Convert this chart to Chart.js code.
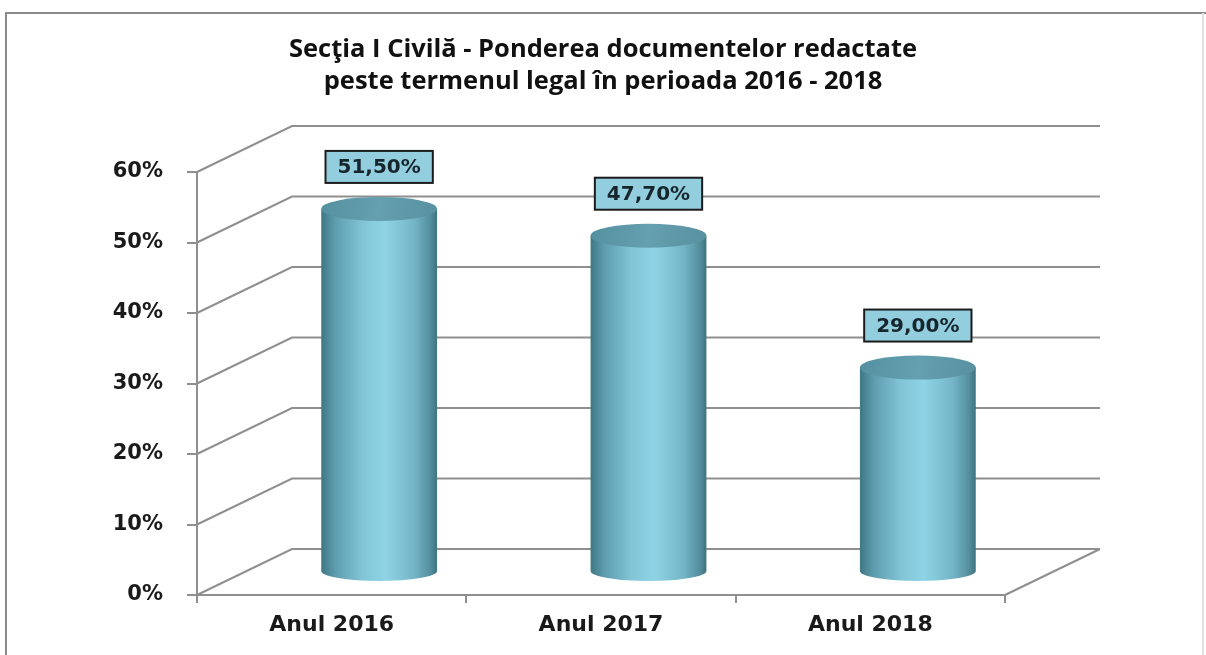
<!DOCTYPE html>
<html>
<head>
<meta charset="utf-8">
<script src="https://cdn.jsdelivr.net/npm/chart.js@4"></script>
<style>
  html, body { margin: 0; padding: 0; background: #fff; }
  #wrap { width: 1206px; height: 655px; }
</style>
</head>
<body>
<div id="wrap"><canvas id="chart"></canvas></div>
<script>
const categories = ['Anul 2016', 'Anul 2017', 'Anul 2018'];
const values = [51.5, 47.7, 29.0];
const tickValues = [0, 10, 20, 30, 40, 50, 60];
const titleLines = ['Secţia I Civilă - Ponderea documentelor redactate', 'peste termenul legal în perioada 2016 - 2018'];

// 3D depth of the back wall
const depthX = 95;
const depthY = -46;
const gridColor = '#8f8f8f';

const fmtPct = v => v.toFixed(2).replace('.', ',') + '%';

const frame = {
  id: 'frame',
  beforeDraw(chart) {
    const ctx = chart.ctx;
    ctx.save();
    ctx.strokeStyle = '#8a8a8a';
    ctx.lineWidth = 2;
    ctx.beginPath();
    ctx.moveTo(6, 655);
    ctx.lineTo(6, 13);
    ctx.lineTo(1206, 13);
    ctx.stroke();
    ctx.strokeStyle = '#e2e2e2';
    ctx.beginPath();
    ctx.moveTo(1203, 13);
    ctx.lineTo(1203, 655);
    ctx.stroke();
    ctx.restore();
  }
};

const walls = {
  id: 'walls',
  beforeDatasetsDraw(chart) {
    const { ctx, chartArea: a, scales: { y } } = chart;
    ctx.save();
    ctx.strokeStyle = gridColor;
    ctx.lineWidth = 2;
    ctx.beginPath();
    tickValues.forEach(v => {
      const py = y.getPixelForValue(v);
      ctx.moveTo(a.left, py);
      ctx.lineTo(a.left + depthX, py + depthY);
      ctx.lineTo(a.right + depthX, py + depthY);
    });
    const py0 = y.getPixelForValue(0);
    ctx.moveTo(a.right, py0);
    ctx.lineTo(a.right + depthX, py0 + depthY);
    ctx.stroke();
    ctx.restore();
  }
};

const cylinders = {
  id: 'cylinders',
  afterDatasetsDraw(chart) {
    const ctx = chart.ctx;
    const meta = chart.getDatasetMeta(0);
    meta.data.forEach((bar, i) => {
      const p = bar.getProps(['x', 'y', 'base', 'width'], true);
      const cx = p.x + depthX / 2;
      const top = p.y + depthY / 2;
      const bot = p.base + depthY / 2;
      const rx = p.width / 2;
      const ry = 12;

      const g = ctx.createLinearGradient(cx - rx, 0, cx + rx, 0);
      g.addColorStop(0, '#3f7784');
      g.addColorStop(0.12, '#5e9dae');
      g.addColorStop(0.35, '#80c4d6');
      g.addColorStop(0.55, '#8fd4e6');
      g.addColorStop(0.8, '#74b6c8');
      g.addColorStop(0.94, '#558f9e');
      g.addColorStop(1, '#3e7381');

      ctx.save();
      ctx.beginPath();
      ctx.moveTo(cx - rx, top);
      ctx.lineTo(cx - rx, bot);
      ctx.ellipse(cx, bot, rx, ry - 2, 0, Math.PI, 0, true);
      ctx.lineTo(cx + rx, top);
      ctx.closePath();
      ctx.fillStyle = g;
      ctx.fill();

      const gt = ctx.createLinearGradient(cx - rx, top - ry, cx + rx, top + ry);
      gt.addColorStop(0, '#5590a0');
      gt.addColorStop(0.5, '#65a0b0');
      gt.addColorStop(1, '#58909f');
      ctx.beginPath();
      ctx.ellipse(cx, top, rx, ry, 0, 0, Math.PI * 2);
      ctx.fillStyle = gt;
      ctx.fill();

      // value label box
      const txt = fmtPct(values[i]);
      ctx.font = 'bold 20px "DejaVu Sans"';
      const tw = ctx.measureText(txt).width;
      const bw = tw + 24, bh = 32;
      const by = top - 42;
      ctx.fillStyle = '#93cedf';
      ctx.fillRect(cx - bw / 2, by - bh / 2, bw, bh);
      ctx.strokeStyle = '#1c1c1c';
      ctx.lineWidth = 2;
      ctx.strokeRect(cx - bw / 2, by - bh / 2, bw, bh);
      ctx.fillStyle = '#17262d';
      ctx.textAlign = 'center';
      ctx.textBaseline = 'middle';
      ctx.fillText(txt, cx, by + 1);
      ctx.restore();
    });
  }
};

new Chart(document.getElementById('chart'), {
  type: 'bar',
  data: {
    labels: categories,
    datasets: [{
      data: values,
      backgroundColor: 'rgba(0,0,0,0)',
      borderWidth: 0,
      categoryPercentage: 1,
      barPercentage: 0.43
    }]
  },
  options: {
    responsive: true,
    maintainAspectRatio: false,
    animation: false,
    layout: { padding: 0 },
    plugins: {
      legend: { display: false },
      tooltip: { enabled: false },
      title: {
        display: true,
        text: titleLines,
        color: '#111',
        font: { family: 'Open Sans', weight: 'bold', size: 25.5, lineHeight: 32 / 25.5 },
        padding: { top: 34, bottom: 74 }
      }
    },
    scales: {
      x: {
        grid: { drawOnChartArea: false, offset: true, tickLength: 8, color: gridColor, lineWidth: 2 },
        border: { display: true, color: gridColor, width: 2 },
        ticks: { color: '#1a1a1a', padding: 9, font: { family: 'DejaVu Sans', weight: 'bold', size: 22 } },
        afterFit: s => { s.height = 60; }
      },
      y: {
        min: 0,
        max: 60,
        afterBuildTicks: s => { s.ticks = tickValues.map(v => ({ value: v })); },
        grid: { drawOnChartArea: false, tickLength: 10, color: gridColor, lineWidth: 2 },
        border: { display: true, color: gridColor, width: 2 },
        ticks: {
          color: '#1a1a1a',
          padding: 24,
          font: { family: 'DejaVu Sans', weight: 'bold', size: 21 },
          callback: v => v + '%'
        },
        afterFit: s => { s.width = 197; }
      },
      r: {
        position: 'right',
        display: true,
        grid: { display: false },
        border: { display: false },
        ticks: { display: false },
        afterFit: s => { s.width = 201; }
      }
    }
  },
  plugins: [frame, walls, cylinders]
});
</script>
</body>
</html>
